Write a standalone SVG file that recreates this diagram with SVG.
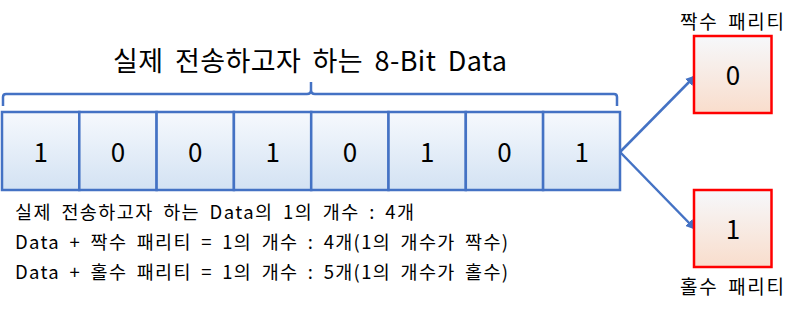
<svg xmlns="http://www.w3.org/2000/svg" width="800" height="309" viewBox="0 0 800 309">
<defs>
<linearGradient id="gb" x1="0" y1="0" x2="0" y2="1"><stop offset="0" stop-color="#f6f9fd"/><stop offset="1" stop-color="#d3e2f3"/></linearGradient>
<linearGradient id="gr" x1="0" y1="0" x2="0" y2="1"><stop offset="0" stop-color="#f6f8fb"/><stop offset="1" stop-color="#f9ddcc"/></linearGradient>
<marker id="ah" viewBox="0 0 10 10" refX="9" refY="5" markerWidth="4" markerHeight="4" orient="auto"><path d="M0,0 L10,5 L0,10 Z" fill="#4472c4"/></marker>
<style>
.cell{fill:url(#gb);stroke:#4472c4;stroke-width:2.5}
.par{fill:url(#gr);stroke:#ff0000;stroke-width:2.5}
.num{font-family:"Noto Sans CJK KR","Noto Sans",sans-serif;font-size:26px;fill:#000;text-anchor:middle}
.t{font-family:"Noto Sans CJK KR","Noto Sans",sans-serif;fill:#000}
.nt{font-size:18.5px;word-spacing:4px}
.ln{fill:none;stroke:#4472c4;stroke-width:2.5}
</style>
</defs>
<text class="t" x="113" y="71" font-size="27" word-spacing="5" textLength="394" lengthAdjust="spacing">실제 전송하고자 하는 8-Bit Data</text>
<g id="brace"><path class="ln" d="M3,106 V97 Q3,94 6,94 H307 Q311,94 311,90 V82 M311,90 Q311,94 315,94 H614 Q617,94 617,97 V106"/></g>
<g id="cells">
<g id="c1"><rect class="cell" x="2" y="112" width="77.3" height="78"/><text class="num" x="40.7" y="162">1</text></g>
<g id="c2"><rect class="cell" x="79.3" y="112" width="77.3" height="78"/><text class="num" x="118" y="162">0</text></g>
<g id="c3"><rect class="cell" x="156.6" y="112" width="77.3" height="78"/><text class="num" x="195.3" y="162">0</text></g>
<g id="c4"><rect class="cell" x="233.9" y="112" width="77.3" height="78"/><text class="num" x="272.6" y="162">1</text></g>
<g id="c5"><rect class="cell" x="311.2" y="112" width="77.3" height="78"/><text class="num" x="349.9" y="162">0</text></g>
<g id="c6"><rect class="cell" x="388.5" y="112" width="77.3" height="78"/><text class="num" x="427.2" y="162">1</text></g>
<g id="c7"><rect class="cell" x="465.8" y="112" width="77.3" height="78"/><text class="num" x="504.5" y="162">0</text></g>
<g id="c8"><rect class="cell" x="543.1" y="112" width="76.9" height="78"/><text class="num" x="581.6" y="162">1</text></g>
</g>
<g id="connectors">
<line class="ln" x1="620" y1="152" x2="695" y2="76" marker-end="url(#ah)"/>
<line class="ln" x1="620" y1="152" x2="695" y2="229" marker-end="url(#ah)"/>
</g>
<g id="even"><text class="t" x="680" y="29" font-size="19" word-spacing="4" textLength="104" lengthAdjust="spacing">짝수 패리티</text><rect class="par" x="694" y="36" width="77.5" height="77"/><text class="num" x="733" y="85">0</text></g>
<g id="odd"><rect class="par" x="694" y="190" width="77.5" height="77"/><text class="num" x="733" y="239">1</text><text class="t" x="680" y="294" font-size="19" word-spacing="4" textLength="104" lengthAdjust="spacing">홀수 패리티</text></g>
<g id="notes">
<text class="t nt" x="15" y="219" textLength="399" lengthAdjust="spacing">실제 전송하고자 하는 Data의 1의 개수 : 4개</text>
<text class="t nt" x="15" y="249" textLength="493" lengthAdjust="spacing">Data + 짝수 패리티 = 1의 개수 : 4개(1의 개수가 짝수)</text>
<text class="t nt" x="15" y="279" textLength="493" lengthAdjust="spacing">Data + 홀수 패리티 = 1의 개수 : 5개(1의 개수가 홀수)</text>
</g>
</svg>
